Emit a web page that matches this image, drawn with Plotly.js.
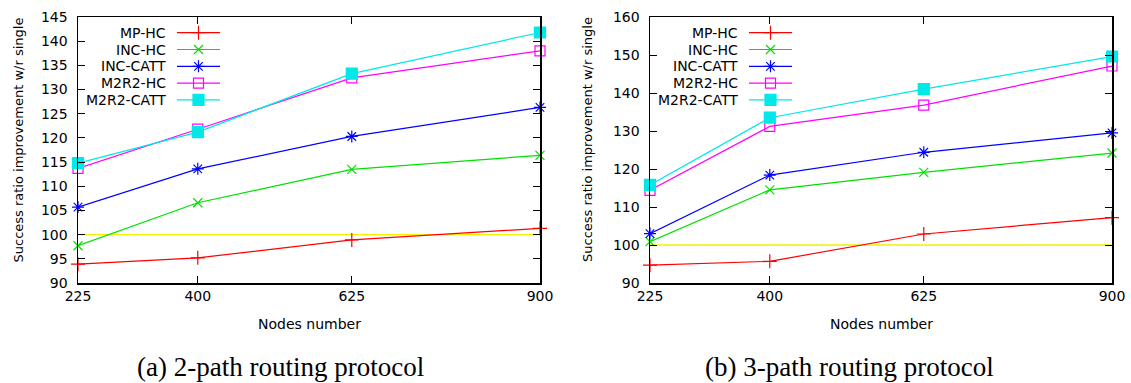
<!DOCTYPE html>
<html>
<head>
<meta charset="utf-8">
<script src="https://cdn.plot.ly/plotly-3.0.1.min.js"></script>
<style>html,body{margin:0;padding:0;background:#fff;}#chart{width:1131px;height:383px;}</style>
</head>
<body>
<div id="chart"></div>
<script>
// ---- data ----
const nodes = [225, 400, 625, 900];
const nodeTicks = ['225', '400', '625', '900'];
const seriesNames = ['MP-HC', 'INC-HC', 'INC-CATT', 'M2R2-HC', 'M2R2-CATT'];
const baseline = [100, 100, 100, 100];

// (a) 2-path routing protocol
const twoPathMPHC     = [93.9, 95.2, 98.9, 101.3];
const twoPathINCHC    = [97.7, 106.6, 113.5, 116.4];
const twoPathINCCATT  = [105.7, 113.6, 120.3, 126.3];
const twoPathM2R2HC   = [113.7, 121.8, 132.4, 138.0];
const twoPathM2R2CATT = [114.8, 121.2, 133.3, 141.8];

// (b) 3-path routing protocol
const threePathMPHC     = [94.7, 95.7, 102.9, 107.2];
const threePathINCHC    = [100.9, 114.5, 119.1, 124.2];
const threePathINCCATT  = [103.0, 118.4, 124.4, 129.5];
const threePathM2R2HC   = [114.4, 131.2, 136.8, 147.1];
const threePathM2R2CATT = [115.8, 133.5, 141.0, 149.6];

const captions = ['(a) 2-path routing protocol', '(b) 3-path routing protocol'];
const xTitle = 'Nodes number';
const yTitle = 'Success ratio improvement w/r single';

// ---- styles ----
const colors = ['#ff0000', '#00e000', '#0000ff', '#ff00ff', '#00e8e8'];
const symbols = ['cross-thin-open', 'x-thin-open', 'asterisk-open', 'square-open', 'square'];
const sizes = [10, 9, 10, 10, 11];
const W = 1131, H = 383;
const px = v => v / W;
const py = v => 1 - v / H;
const font = 'DejaVu Sans, sans-serif';

const twoPath = [twoPathMPHC, twoPathINCHC, twoPathINCCATT, twoPathM2R2HC, twoPathM2R2CATT];
const threePath = [threePathMPHC, threePathINCHC, threePathINCCATT, threePathM2R2HC, threePathM2R2CATT];

const traces = [];
function addPanel(sets, xa, ya) {
  traces.push({x: nodes, y: baseline, xaxis: xa, yaxis: ya, mode: 'lines',
    line: {color: '#f2f200', width: 1.3}, showlegend: false, hoverinfo: 'skip'});
  sets.forEach((vals, i) => {
    traces.push({x: nodes, y: vals, xaxis: xa, yaxis: ya, mode: 'lines+markers',
      name: seriesNames[i], showlegend: false, cliponaxis: false,
      line: {color: colors[i], width: 1.2},
      marker: {symbol: symbols[i], size: sizes[i], color: colors[i],
        line: {color: colors[i], width: 1.2}}});
  });
}
addPanel(twoPath, 'x', 'y');
addPanel(threePath, 'x2', 'y2');

// ---- custom gnuplot-style legends (text right, sample left) drawn on a pixel overlay axis ----
const legendPanels = [
  {textRight: 168, lineStart: 177, lineEnd: 220},
  {textRight: 740, lineStart: 749, lineEnd: 792}
];
const legendTop = 32.7, legendGap = 16.8;
const annotations = [];
legendPanels.forEach(p => {
  seriesNames.forEach((name, i) => {
    const yy = legendTop + i * legendGap;
    const mid = (p.lineStart + p.lineEnd) / 2;
    traces.push({x: [p.lineStart, p.lineEnd], y: [yy, yy], xaxis: 'x3', yaxis: 'y3',
      mode: 'lines', line: {color: colors[i], width: 1.2}, showlegend: false, hoverinfo: 'skip'});
    traces.push({x: [mid], y: [yy], xaxis: 'x3', yaxis: 'y3', mode: 'markers',
      marker: {symbol: symbols[i], size: sizes[i], color: colors[i], line: {color: colors[i], width: 1.2}},
      showlegend: false, hoverinfo: 'skip'});
    annotations.push({xref: 'paper', yref: 'paper', x: px(p.textRight), y: py(yy),
      xanchor: 'right', yanchor: 'middle', text: name, showarrow: false,
      font: {family: font, size: 14, color: '#000'}});
  });
});

// axis titles & captions
const panelCenters = [309, 881];
const yTitleX = [17.5, 587];
const captionCenters = [280, 850];
panelCenters.forEach((cx, k) => {
  annotations.push({xref: 'paper', yref: 'paper', x: px(cx), y: py(324), xanchor: 'center', yanchor: 'middle',
    text: xTitle, showarrow: false, font: {family: font, size: 14, color: '#000'}});
  annotations.push({xref: 'paper', yref: 'paper', x: px(yTitleX[k]), y: py(140), xanchor: 'center', yanchor: 'middle',
    text: yTitle, textangle: -90, showarrow: false, font: {family: font, size: 13, color: '#000'}});
  annotations.push({xref: 'paper', yref: 'paper', x: px(captionCenters[k]), y: py(367), xanchor: 'center', yanchor: 'middle',
    text: captions[k], showarrow: false, font: {family: 'Liberation Serif, serif', size: 27, color: '#000'}});
});

function xAxis(domain) {
  return {domain: domain, range: [225, 900], tickvals: nodes, ticktext: nodeTicks,
    ticks: 'inside', ticklen: 7, tickwidth: 1, tickcolor: '#000', mirror: 'ticks',
    showline: true, linecolor: '#000', linewidth: 1.5, showgrid: false, zeroline: false,
    tickfont: {family: font, size: 14, color: '#000'}, fixedrange: true};
}
function yAxis(anchor, range, dtick) {
  return {domain: [py(283), py(17)], anchor: anchor, range: range, dtick: dtick,
    ticks: 'inside', ticklen: 7, tickwidth: 1, tickcolor: '#000', mirror: 'ticks',
    showline: true, linecolor: '#000', linewidth: 1.5, showgrid: false, zeroline: false,
    tickfont: {family: font, size: 14, color: '#000'}, ticklabelstandoff: 6, fixedrange: true};
}

const layout = {
  width: W, height: H, margin: {l: 0, r: 0, t: 0, b: 0},
  paper_bgcolor: '#fff', plot_bgcolor: 'rgba(0,0,0,0)', showlegend: false,
  xaxis: Object.assign(xAxis([px(78), px(540)]), {anchor: 'y'}),
  yaxis: yAxis('x', [90, 145], 5),
  xaxis2: Object.assign(xAxis([px(650), px(1112)]), {anchor: 'y2'}),
  yaxis2: yAxis('x2', [90, 160], 10),
  xaxis3: {domain: [0, 1], range: [0, W], visible: false, anchor: 'y3', fixedrange: true},
  yaxis3: {domain: [0, 1], range: [H, 0], visible: false, anchor: 'x3', fixedrange: true},
  annotations: annotations
};

Plotly.newPlot('chart', traces, layout, {displayModeBar: false, staticPlot: true});
</script>
</body>
</html>
